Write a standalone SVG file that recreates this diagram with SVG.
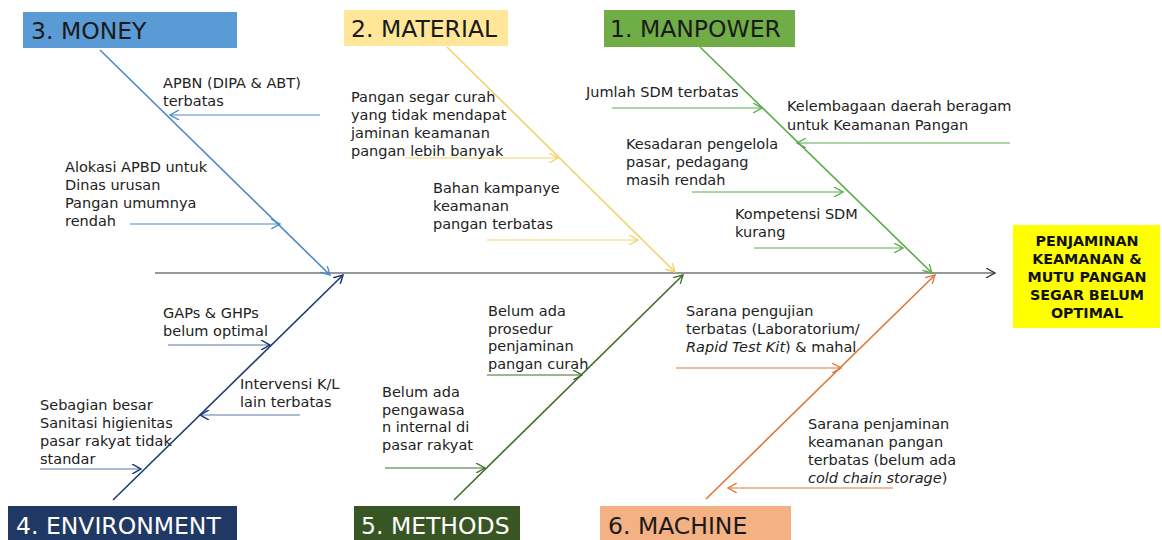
<svg xmlns="http://www.w3.org/2000/svg" width="1162" height="540" viewBox="0 0 1162 540">
<style>
.t{font-family:"DejaVu Sans","Open Sans",sans-serif;font-size:14.5px;fill:#222}
.h{font-family:"DejaVu Sans","Open Sans",sans-serif;font-size:23.5px}
.r{font-family:"DejaVu Sans","Open Sans",sans-serif;font-size:14.3px;font-weight:bold;fill:#111;text-anchor:middle}
.bone{fill:none;stroke-width:1.6}
.sub{fill:none;stroke-width:1}
</style>
<defs>
<marker id="mk" viewBox="0 0 10 10" refX="9" refY="5" markerWidth="10" markerHeight="10" markerUnits="userSpaceOnUse" orient="auto"><path d="M0,0 L9,5 L0,10" fill="none" stroke="#333" stroke-width="1.2"/></marker>
<marker id="mb" viewBox="0 0 10 10" refX="9" refY="5" markerWidth="10" markerHeight="10" markerUnits="userSpaceOnUse" orient="auto"><path d="M0,0 L9,5 L0,10" fill="none" stroke="#4a89c8" stroke-width="1.3"/></marker>
<marker id="my" viewBox="0 0 10 10" refX="9" refY="5" markerWidth="10" markerHeight="10" markerUnits="userSpaceOnUse" orient="auto"><path d="M0,0 L9,5 L0,10" fill="none" stroke="#f2d36b" stroke-width="1.3"/></marker>
<marker id="mg" viewBox="0 0 10 10" refX="9" refY="5" markerWidth="10" markerHeight="10" markerUnits="userSpaceOnUse" orient="auto"><path d="M0,0 L9,5 L0,10" fill="none" stroke="#5aab4a" stroke-width="1.3"/></marker>
<marker id="mn" viewBox="0 0 10 10" refX="9" refY="5" markerWidth="10" markerHeight="10" markerUnits="userSpaceOnUse" orient="auto"><path d="M0,0 L9,5 L0,10" fill="none" stroke="#1f3b73" stroke-width="1.5"/></marker>
<marker id="md" viewBox="0 0 10 10" refX="9" refY="5" markerWidth="10" markerHeight="10" markerUnits="userSpaceOnUse" orient="auto"><path d="M0,0 L9,5 L0,10" fill="none" stroke="#3f6b2b" stroke-width="1.3"/></marker>
<marker id="mo" viewBox="0 0 10 10" refX="9" refY="5" markerWidth="10" markerHeight="10" markerUnits="userSpaceOnUse" orient="auto"><path d="M0,0 L9,5 L0,10" fill="none" stroke="#e0763a" stroke-width="1.3"/></marker>
</defs>
<rect width="1162" height="540" fill="#fff"/>

<g id="connectors">
<line x1="155" y1="273" x2="995" y2="273" stroke="#333" stroke-width="1.2" marker-end="url(#mk)"/>
<line class="bone" x1="100" y1="50" x2="330" y2="275" stroke="#4a89c8" marker-end="url(#mb)"/>
<line class="bone" x1="447" y1="47" x2="675" y2="272" stroke="#f2d36b" marker-end="url(#my)"/>
<line class="bone" x1="700" y1="47" x2="932" y2="273" stroke="#5aab4a" marker-end="url(#mg)"/>
<line class="bone" x1="113" y1="500" x2="343" y2="275" stroke="#1f3b73" marker-end="url(#mn)"/>
<line class="bone" x1="454" y1="500" x2="683" y2="275" stroke="#3f6b2b" marker-end="url(#md)"/>
<line class="bone" x1="706" y1="499" x2="935" y2="275" stroke="#e0763a" marker-end="url(#mo)"/>

<line class="sub" x1="320" y1="115" x2="170" y2="115" stroke="#4a89c8" marker-end="url(#mb)"/>
<line class="sub" x1="130" y1="224" x2="280" y2="224" stroke="#4a89c8" marker-end="url(#mb)"/>
<line class="sub" x1="405" y1="158" x2="558" y2="158" stroke="#f2d36b" marker-end="url(#my)"/>
<line class="sub" x1="487" y1="240" x2="638" y2="240" stroke="#f2d36b" marker-end="url(#my)"/>
<line class="sub" x1="612" y1="108" x2="762" y2="108" stroke="#5aab4a" marker-end="url(#mg)"/>
<line class="sub" x1="1010" y1="143" x2="797" y2="143" stroke="#5aab4a" marker-end="url(#mg)"/>
<line class="sub" x1="692" y1="192" x2="843" y2="192" stroke="#5aab4a" marker-end="url(#mg)"/>
<line class="sub" x1="754" y1="248" x2="903" y2="248" stroke="#5aab4a" marker-end="url(#mg)"/>
<line class="sub" x1="168" y1="345" x2="270" y2="345" stroke="#5a78a8" marker-end="url(#mn)"/>
<line class="sub" x1="300" y1="415" x2="200" y2="415" stroke="#5a78a8" marker-end="url(#mn)"/>
<line class="sub" x1="40" y1="469" x2="141" y2="469" stroke="#5a78a8" marker-end="url(#mn)"/>
<line class="sub" x1="487" y1="375" x2="582" y2="375" stroke="#3f6b2b" marker-end="url(#md)"/>
<line class="sub" x1="385" y1="468" x2="485" y2="468" stroke="#3f6b2b" marker-end="url(#md)"/>
<line class="sub" x1="676" y1="368" x2="841" y2="368" stroke="#e0763a" marker-end="url(#mo)"/>
<line class="sub" x1="893" y1="488" x2="728" y2="488" stroke="#e0763a" marker-end="url(#mo)"/>
</g>

<g id="money">
<rect x="23" y="12" width="214" height="36" fill="#5b9bd5"/>
<text class="h" x="31" y="39" fill="#1a1a1a">3. MONEY</text>
</g>
<g id="material">
<rect x="344" y="10" width="164" height="36" fill="#ffe699"/>
<text class="h" x="351" y="37" fill="#1a1a1a">2. MATERIAL</text>
</g>
<g id="manpower">
<rect x="604" y="10" width="191" height="37" fill="#70ad47"/>
<text class="h" x="610" y="37" fill="#1a1a1a">1. MANPOWER</text>
</g>
<g id="environment">
<rect x="8" y="506" width="229" height="40" fill="#1f3864"/>
<text class="h" x="16" y="534" fill="#fff">4. ENVIRONMENT</text>
</g>
<g id="methods">
<rect x="354" y="506" width="166" height="40" fill="#375623"/>
<text class="h" x="361" y="534" fill="#fff">5. METHODS</text>
</g>
<g id="machine">
<rect x="600" y="506" width="191" height="40" fill="#f4b183"/>
<text class="h" x="608" y="534" fill="#1a1a1a">6. MACHINE</text>
</g>
<g id="result">
<rect x="1013" y="225" width="147" height="103" fill="#ffff00"/>
<text class="r" x="1087" y="246">PENJAMINAN</text>
<text class="r" x="1087" y="264">KEAMANAN &amp;</text>
<text class="r" x="1087" y="282">MUTU PANGAN</text>
<text class="r" x="1087" y="300">SEGAR BELUM</text>
<text class="r" x="1087" y="318">OPTIMAL</text>
</g>

<g id="money-causes">
<text class="t" x="163" y="88">APBN (DIPA &amp; ABT)</text>
<text class="t" x="163" y="106">terbatas</text>
<text class="t" x="65" y="172">Alokasi APBD untuk</text>
<text class="t" x="65" y="190">Dinas urusan</text>
<text class="t" x="65" y="208">Pangan umumnya</text>
<text class="t" x="65" y="226">rendah</text>
</g>
<g id="material-causes">
<text class="t" x="351" y="102">Pangan segar curah</text>
<text class="t" x="351" y="120">yang tidak mendapat</text>
<text class="t" x="351" y="138">jaminan keamanan</text>
<text class="t" x="351" y="156">pangan lebih banyak</text>
<text class="t" x="433" y="193">Bahan kampanye</text>
<text class="t" x="433" y="211">keamanan</text>
<text class="t" x="433" y="229">pangan terbatas</text>
</g>
<g id="manpower-causes">
<text class="t" x="586" y="97">Jumlah SDM terbatas</text>
<text class="t" x="787" y="111">Kelembagaan daerah beragam</text>
<text class="t" x="787" y="130">untuk Keamanan Pangan</text>
<text class="t" x="626" y="149">Kesadaran pengelola</text>
<text class="t" x="626" y="167">pasar, pedagang</text>
<text class="t" x="626" y="185">masih rendah</text>
<text class="t" x="735" y="219">Kompetensi SDM</text>
<text class="t" x="735" y="237">kurang</text>
</g>
<g id="environment-causes">
<text class="t" x="163" y="318">GAPs &amp; GHPs</text>
<text class="t" x="163" y="336">belum optimal</text>
<text class="t" x="240" y="389">Intervensi K/L</text>
<text class="t" x="240" y="407">lain terbatas</text>
<text class="t" x="40" y="410">Sebagian besar</text>
<text class="t" x="40" y="428">Sanitasi higienitas</text>
<text class="t" x="40" y="446">pasar rakyat tidak</text>
<text class="t" x="40" y="464">standar</text>
</g>
<g id="methods-causes">
<text class="t" x="488" y="316">Belum ada</text>
<text class="t" x="488" y="334">prosedur</text>
<text class="t" x="488" y="351">penjaminan</text>
<text class="t" x="488" y="369">pangan curah</text>
<text class="t" x="382" y="397">Belum ada</text>
<text class="t" x="382" y="415">pengawasa</text>
<text class="t" x="382" y="432">n internal di</text>
<text class="t" x="382" y="450">pasar rakyat</text>
</g>
<g id="machine-causes">
<text class="t" x="686" y="316">Sarana pengujian</text>
<text class="t" x="686" y="334">terbatas (Laboratorium/</text>
<text class="t" x="686" y="352"><tspan font-style="italic">Rapid Test Kit</tspan>) &amp; mahal</text>
<text class="t" x="808" y="429">Sarana penjaminan</text>
<text class="t" x="808" y="447">keamanan pangan</text>
<text class="t" x="808" y="465">terbatas (belum ada</text>
<text class="t" x="808" y="483"><tspan font-style="italic">cold chain storage</tspan>)</text>
</g>
</svg>
